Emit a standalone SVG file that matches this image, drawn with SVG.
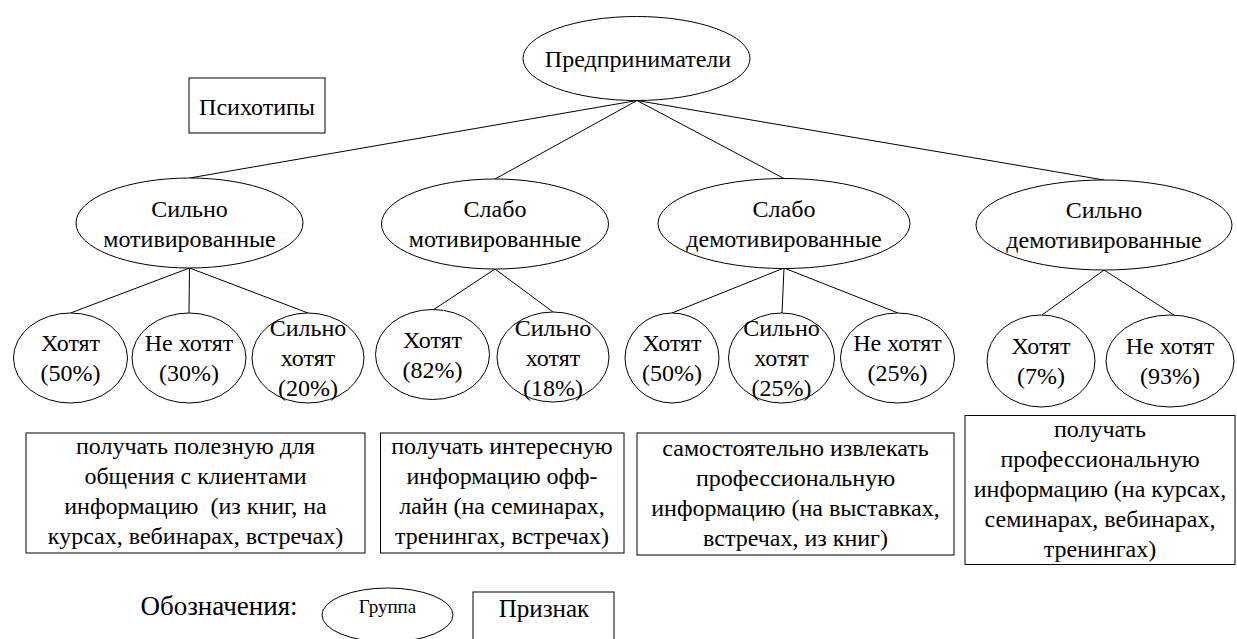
<svg xmlns="http://www.w3.org/2000/svg" width="1237" height="639" viewBox="0 0 1237 639">
<style>
.s{fill:#fff;stroke:#000;stroke-width:1}
.c line{stroke:#000;stroke-width:1}
</style>
<rect width="1237" height="639" fill="#fff"/>
<g class="c" id="connectors">
<line x1="637" y1="100.5" x2="189.5" y2="178"/>
<line x1="637" y1="100.5" x2="495" y2="179"/>
<line x1="637" y1="100.5" x2="784" y2="178.5"/>
<line x1="637" y1="100.5" x2="1104" y2="180"/>
<line x1="189.5" y1="268" x2="70.5" y2="313"/>
<line x1="189.5" y1="268" x2="189" y2="313"/>
<line x1="189.5" y1="268" x2="308" y2="313"/>
<line x1="495" y1="269" x2="433" y2="310"/>
<line x1="495" y1="269" x2="553" y2="312"/>
<line x1="784" y1="268" x2="672" y2="313"/>
<line x1="784" y1="268" x2="782" y2="313"/>
<line x1="784" y1="268" x2="898" y2="313"/>
<line x1="1104" y1="270" x2="1042" y2="315"/>
<line x1="1104" y1="270" x2="1174" y2="315"/>
</g>
<g font-family="Liberation Serif" font-size="24" text-anchor="middle" fill="#000">
<g id="root"><ellipse class="s" cx="636.5" cy="58.5" rx="113.5" ry="42"/><text x="638" y="67">Предприниматели</text></g>
<g id="psychotypes"><rect class="s" x="189" y="78" width="136" height="55"/><text x="257" y="115">Психотипы</text></g>
<g id="g1"><ellipse class="s" cx="189.5" cy="223" rx="113.5" ry="45"/><text x="189.5" y="217">Сильно</text><text x="189.5" y="247">мотивированные</text></g>
<g id="g2"><ellipse class="s" cx="495" cy="224" rx="113.5" ry="45"/><text x="495" y="217">Слабо</text><text x="495" y="247">мотивированные</text></g>
<g id="g3"><ellipse class="s" cx="784" cy="223.5" rx="126" ry="45"/><text x="784" y="217">Слабо</text><text x="784" y="247">демотивированные</text></g>
<g id="g4"><ellipse class="s" cx="1104" cy="225" rx="128" ry="45"/><text x="1104" y="218">Сильно</text><text x="1104" y="248">демотивированные</text></g>
<g id="a1"><ellipse class="s" cx="70.5" cy="358" rx="57" ry="45"/><text x="70.5" y="351">Хотят</text><text x="70.5" y="381">(50%)</text></g>
<g id="a2"><ellipse class="s" cx="189" cy="358" rx="57" ry="45"/><text x="189" y="351">Не хотят</text><text x="189" y="381">(30%)</text></g>
<g id="a3"><ellipse class="s" cx="308" cy="358" rx="56" ry="45"/><text x="308" y="336">Сильно</text><text x="308" y="366">хотят</text><text x="308" y="396">(20%)</text></g>
<g id="b1"><ellipse class="s" cx="432.5" cy="354.5" rx="57" ry="45"/><text x="432.5" y="348">Хотят</text><text x="432.5" y="378">(82%)</text></g>
<g id="b2"><ellipse class="s" cx="553" cy="357" rx="56" ry="45"/><text x="553" y="336">Сильно</text><text x="553" y="366">хотят</text><text x="553" y="396">(18%)</text></g>
<g id="c1"><ellipse class="s" cx="672" cy="358" rx="47" ry="45"/><text x="672" y="351">Хотят</text><text x="672" y="381">(50%)</text></g>
<g id="c2"><ellipse class="s" cx="781.5" cy="358" rx="53" ry="45"/><text x="781.5" y="336">Сильно</text><text x="781.5" y="366">хотят</text><text x="781.5" y="396">(25%)</text></g>
<g id="c3"><ellipse class="s" cx="897.5" cy="358" rx="57" ry="45"/><text x="897.5" y="351">Не хотят</text><text x="897.5" y="381">(25%)</text></g>
<g id="d1"><ellipse class="s" cx="1041" cy="361" rx="54" ry="46"/><text x="1041" y="354">Хотят</text><text x="1041" y="384">(7%)</text></g>
<g id="d2"><ellipse class="s" cx="1170" cy="361" rx="64" ry="46"/><text x="1170" y="354">Не хотят</text><text x="1170" y="384">(93%)</text></g>
<g id="box1"><rect class="s" x="26" y="433" width="339" height="120"/>
<text x="195.5" y="454">получать полезную для</text>
<text x="195.5" y="484">общения с клиентами</text>
<text x="195.5" y="514" xml:space="preserve">информацию  (из книг, на</text>
<text x="195.5" y="544">курсах, вебинарах, встречах)</text></g>
<g id="box2"><rect class="s" x="380.5" y="433" width="243.5" height="120"/>
<text x="502" y="454">получать интересную</text>
<text x="502" y="484">информацию офф-</text>
<text x="502" y="514">лайн (на семинарах,</text>
<text x="502" y="544">тренингах, встречах)</text></g>
<g id="box3"><rect class="s" x="637" y="433" width="317" height="122"/>
<text x="795.5" y="456">самостоятельно извлекать</text>
<text x="795.5" y="486">профессиональную</text>
<text x="795.5" y="516">информацию (на выставках,</text>
<text x="795.5" y="546">встречах, из книг)</text></g>
<g id="box4"><rect class="s" x="965" y="415.5" width="270" height="149"/>
<text x="1100" y="437">получать</text>
<text x="1100" y="467">профессиональную</text>
<text x="1100" y="497">информацию (на курсах,</text>
<text x="1100" y="527">семинарах, вебинарах,</text>
<text x="1100" y="557">тренингах)</text></g>
<g id="legend">
<text x="219" y="615" font-size="27">Обозначения:</text>
<ellipse class="s" cx="387.5" cy="615" rx="65.5" ry="27"/>
<text x="387.5" y="613" font-size="19">Группа</text>
<rect class="s" x="473" y="592" width="141" height="70"/>
<text x="544" y="617" font-size="25">Признак</text>
</g>
</g>
</svg>
